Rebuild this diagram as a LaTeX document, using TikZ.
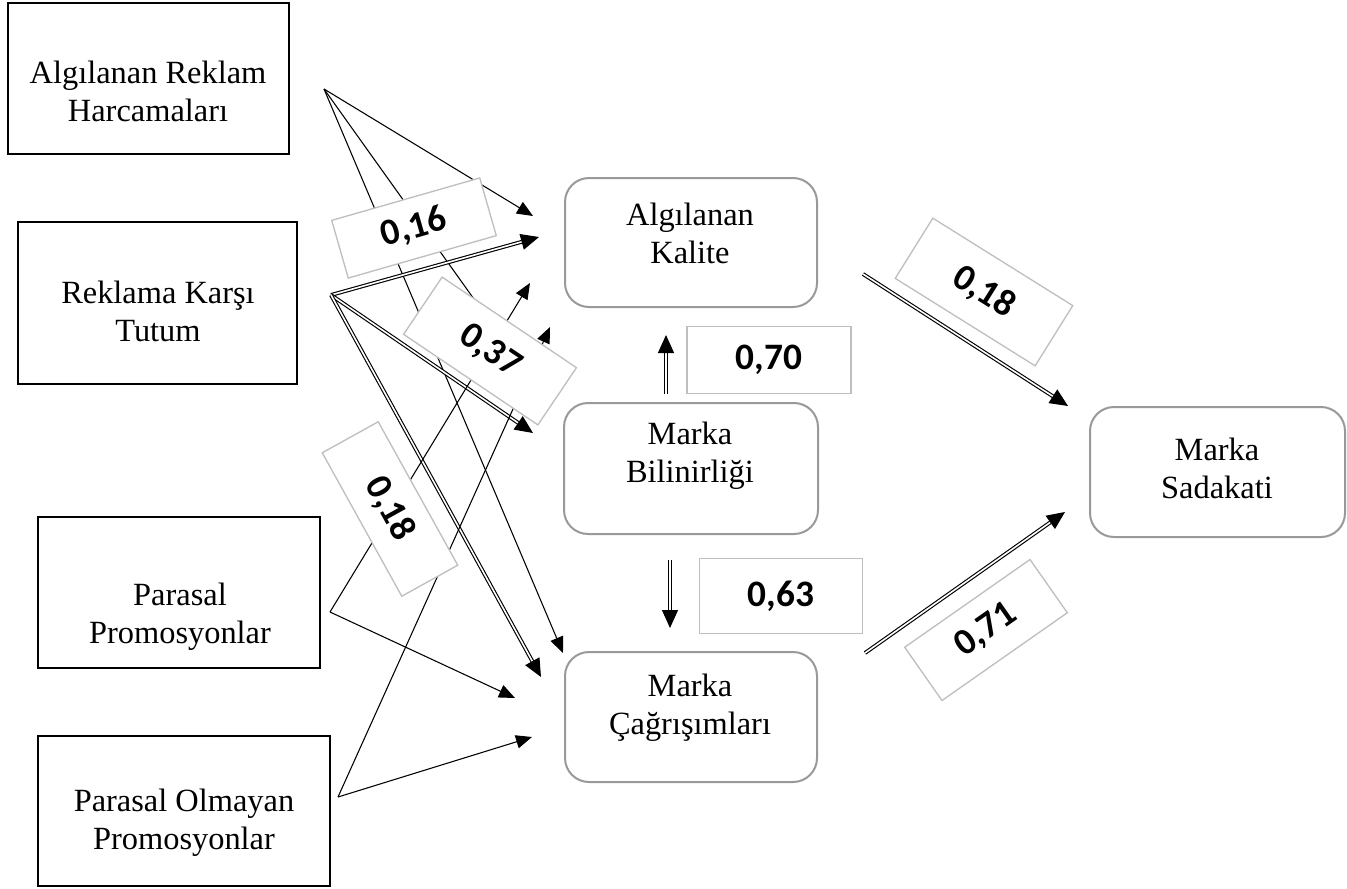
\documentclass[tikz,border=0pt]{standalone}
\usepackage{fontspec}
\setmainfont{Liberation Serif}
\newfontfamily\lblfont{Carlito}[BoldFont={Carlito Bold}]
\usetikzlibrary{arrows.meta}
\begin{document}
\begin{tikzpicture}[x=0.75pt,y=-0.75pt,
  srcbox/.style={draw=black,line width=1.1pt,inner sep=0pt},
  rbox/.style={draw=black!40,line width=1.5pt,rounded corners=18pt,inner sep=0pt},
  txt/.style={align=center,inner sep=0pt,font=\fontsize{24.3}{28.5}\selectfont},
  valbox/.style={draw=black!25,line width=1pt,fill=white,inner sep=0pt,font=\lblfont\bfseries\fontsize{28}{30}\selectfont},
  thinarrow/.style={line width=0.8pt,-{Triangle[length=12pt,width=10pt]}},
  dblarrow/.style={line width=0.85pt,double,double distance=1.2pt,-{Triangle[length=13.5pt,width=12pt]}},
]
\useasboundingbox (0,0) rectangle (1347,889);

% source boxes
\node[srcbox,minimum width=281*0.75pt,minimum height=151*0.75pt] (b1) at (148.5,78.5) {};
\node[srcbox,minimum width=279*0.75pt,minimum height=162*0.75pt] (b2) at (157.5,303) {};
\node[srcbox,minimum width=282*0.75pt,minimum height=151*0.75pt] (b3) at (179,592.5) {};
\node[srcbox,minimum width=292*0.75pt,minimum height=150*0.75pt] (b4) at (184,811) {};
\node[txt] (b1t) at (148,91) {Algılanan Reklam\\Harcamaları};
\node[txt] (b2t) at (158,311) {Reklama Karşı\\Tutum};
\node[txt] (b3t) at (180,617) {Parasal\\Promosyonlar};
\node[txt] (b4t) at (184,823) {Parasal Olmayan\\Promosyonlar};

% rounded boxes
\node[rbox,minimum width=252*0.75pt,minimum height=129*0.75pt] (ak) at (691,242.5) {};
\node[rbox,minimum width=254*0.75pt,minimum height=131*0.75pt] (mb) at (691,468.5) {};
\node[rbox,minimum width=252*0.75pt,minimum height=130*0.75pt] (mc) at (691,717) {};
\node[rbox,minimum width=255*0.75pt,minimum height=130*0.75pt] (ms) at (1217.5,472) {};
\node[txt] (akt) at (690,233) {Algılanan\\Kalite};
\node[txt] (mbt) at (690,456) {Marka\\Bilinirliği};
\node[txt] (mct) at (690,708) {Marka\\Çağrışımları};
\node[txt] (mst) at (1217,468) {Marka\\Sadakati};

% connector end points
\coordinate (s1) at (324,89);
\coordinate (s2) at (331,295);
\coordinate (s3) at (330,612);
\coordinate (s4) at (338,797);
\coordinate (t1a) at (533,216);
\coordinate (t1b) at (551,407);
\coordinate (t1c) at (563,653);
\coordinate (t2a) at (539,237);
\coordinate (t2b) at (533,433);
\coordinate (t2c) at (541,677);
\coordinate (t3a) at (530,283);
\coordinate (t3b) at (515,698);
\coordinate (t4a) at (550,327);
\coordinate (t4b) at (532,737);
\coordinate (v1s) at (666,394);
\coordinate (v1e) at (666,335);
\coordinate (v2s) at (670,560);
\coordinate (v2e) at (670,628);
\coordinate (r1s) at (863,274);
\coordinate (r1e) at (1068,406);
\coordinate (r2s) at (865,653);
\coordinate (r2e) at (1065,512);

% connectors
\draw[thinarrow] (s1) -- (t1a);
\draw[thinarrow] (s1) -- (t1b);
\draw[thinarrow] (s1) -- (t1c);
\draw[dblarrow] (s2) -- (t2a);
\draw[dblarrow] (s2) -- (t2b);
\draw[dblarrow] (s2) -- (t2c);
\draw[thinarrow] (s3) -- (t3a);
\draw[thinarrow] (s3) -- (t3b);
\draw[thinarrow] (s4) -- (t4a);
\draw[thinarrow] (s4) -- (t4b);
\draw[dblarrow] (v1s) -- (v1e);
\draw[dblarrow] (v2s) -- (v2e);
\draw[dblarrow] (r1s) -- (r1e);
\draw[dblarrow] (r2s) -- (r2e);

% value labels
\node[valbox,rotate=16,minimum width=154*0.75pt,minimum height=60*0.75pt] (l16) at (414,228) {0,16};
\node[valbox,rotate=-34,minimum width=162*0.75pt,minimum height=69*0.75pt] (l37) at (490,351) {0,37};
\node[valbox,rotate=-61,minimum width=164*0.75pt,minimum height=64*0.75pt] (l18a) at (390,509) {0,18};
\node[valbox,rotate=-32,minimum width=165*0.75pt,minimum height=71*0.75pt] (l18b) at (984,292) {0,18};
\node[valbox,rotate=35,minimum width=153*0.75pt,minimum height=65*0.75pt] (l71) at (986,630) {0,71};
\node[valbox,minimum width=164*0.75pt,minimum height=67*0.75pt] (l70) at (769,360) {0,70};
\node[valbox,minimum width=163*0.75pt,minimum height=75*0.75pt] (l63) at (781,596) {0,63};
\end{tikzpicture}
\end{document}
